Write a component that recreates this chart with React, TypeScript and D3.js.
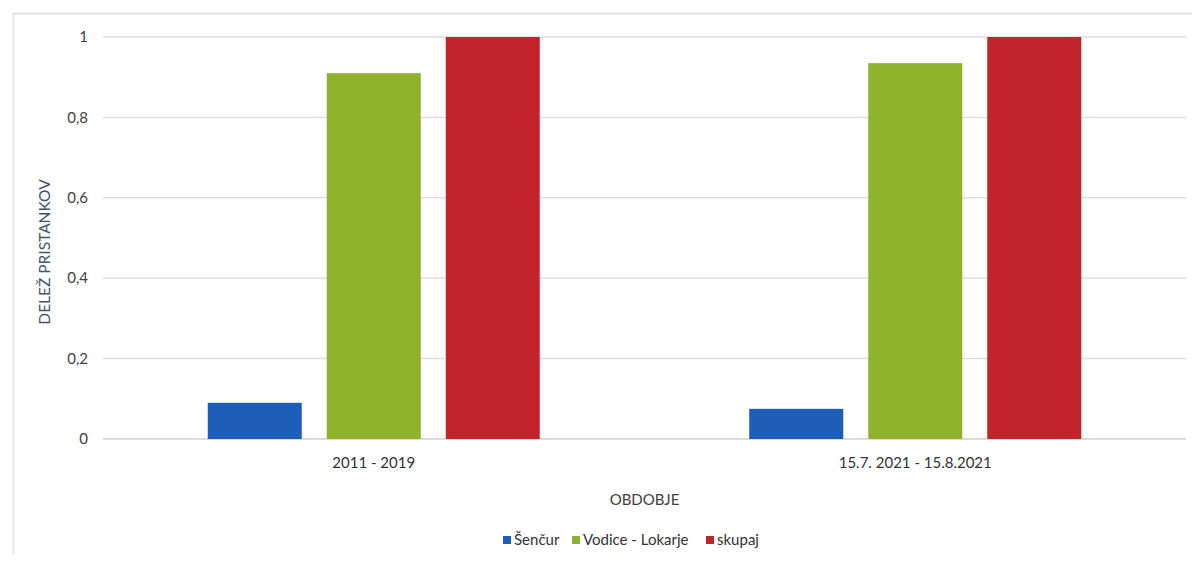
import { useEffect, useRef } from "react";
import * as d3 from "d3";

const categories = ["2011 - 2019", "15.7. 2021 - 15.8.2021"];
const seriesNames = ["Šenčur", "Vodice - Lokarje", "skupaj"];
const sencur = [0.09, 0.075];
const vodice = [0.91, 0.935];
const skupaj = [1, 1];
const yTicks = [0, 0.2, 0.4, 0.6, 0.8, 1];
const colors = ["#1f5dbb", "#8eb22b", "#c1242a"];

const App = () => {
  const svgRef = useRef<SVGSVGElement | null>(null);

  useEffect(() => {
    d3.select(svgRef.current).selectAll("*").remove();

    const W = 1200;
    const H = 562;
    const margin = { top: 37, right: 14, bottom: 123, left: 103 };
    const width = W - margin.left - margin.right;
    const height = H - margin.top - margin.bottom;
    const font = "Lato, 'Open Sans', sans-serif";

    const svg = d3.select(svgRef.current).attr("width", W).attr("height", H);

    // chart frame
    svg
      .append("path")
      .attr("d", `M13.5,${H} V13.5 H${W}`)
      .attr("fill", "none")
      .attr("stroke", "#e4e4e4")
      .attr("stroke-width", 2);

    const g = svg
      .append("g")
      .attr("transform", `translate(${margin.left},${margin.top})`);

    const x0 = d3.scaleBand().domain(categories).range([0, width]).padding(0);
    const x1 = d3
      .scaleBand()
      .domain(seriesNames)
      .range([x0.bandwidth() / 2 - 166, x0.bandwidth() / 2 + 166])
      .paddingInner(0.21);
    const y = d3.scaleLinear().domain([0, 1]).range([height, 0]);

    // gridlines
    g.append("g")
      .selectAll("line")
      .data(yTicks)
      .enter()
      .append("line")
      .attr("x1", 0)
      .attr("x2", width)
      .attr("y1", (d) => y(d))
      .attr("y2", (d) => y(d))
      .attr("stroke", (d) => (d === 0 ? "#cfcfcf" : "#dedede"))
      .attr("stroke-width", 1.5);

    // y tick labels
    g.append("g")
      .selectAll("text")
      .data(yTicks)
      .enter()
      .append("text")
      .attr("x", -15)
      .attr("y", (d) => y(d))
      .attr("dy", "0.35em")
      .attr("text-anchor", "end")
      .attr("font-family", font)
      .attr("font-size", 15)
      .attr("fill", "#404040")
      .text((d) => d3.format("")(d).replace(".", ","));

    const seriesValues = [sencur, vodice, skupaj];
    const rows = categories.map((c, i) => ({
      cat: c,
      vals: seriesNames.map((s, j) => ({ name: s, value: seriesValues[j][i], idx: j })),
    }));

    g.append("g")
      .selectAll("g")
      .data(rows)
      .enter()
      .append("g")
      .attr("transform", (d) => `translate(${x0(d.cat)},0)`)
      .selectAll("rect")
      .data((d) => d.vals)
      .enter()
      .append("rect")
      .attr("x", (d) => x1(d.name) || 0)
      .attr("y", (d) => y(d.value))
      .attr("width", x1.bandwidth())
      .attr("height", (d) => height - y(d.value))
      .attr("fill", (d) => colors[d.idx]);

    // x labels
    g.append("g")
      .selectAll("text")
      .data(categories)
      .enter()
      .append("text")
      .attr("x", (d) => (x0(d) || 0) + x0.bandwidth() / 2)
      .attr("y", height + 29)
      .attr("text-anchor", "middle")
      .attr("font-family", font)
      .attr("font-size", 15)
      .attr("fill", "#333")
      .text((d) => d);

    // axis titles
    g.append("text")
      .attr("x", width / 2)
      .attr("y", height + 66)
      .attr("text-anchor", "middle")
      .attr("font-family", font)
      .attr("font-size", 15)
      .attr("fill", "#404040")
      .text("OBDOBJE");

    svg
      .append("text")
      .attr("transform", `translate(50,252) rotate(-90)`)
      .attr("text-anchor", "middle")
      .attr("font-family", font)
      .attr("font-size", 15.5)
      .attr("fill", "#44546a")
      .text("DELEŽ PRISTANKOV");

    // legend
    const legend = svg.append("g").attr("transform", `translate(503,540)`);
    const offsets = [0, 69, 203];
    seriesNames.forEach((s, i) => {
      const item = legend.append("g").attr("transform", `translate(${offsets[i]},0)`);
      item
        .append("rect")
        .attr("x", 0)
        .attr("y", -4)
        .attr("width", 8)
        .attr("height", 8)
        .attr("fill", colors[i]);
      item
        .append("text")
        .attr("x", 11)
        .attr("y", 0)
        .attr("dy", "0.35em")
        .attr("font-family", font)
        .attr("font-size", 15)
        .attr("fill", "#333")
        .text(s);
    });
  }, []);

  return (
    <div style={{ margin: -8, background: "#fff" }}>
      <svg ref={svgRef} style={{ display: "block" }} />
    </div>
  );
};

export default App;
